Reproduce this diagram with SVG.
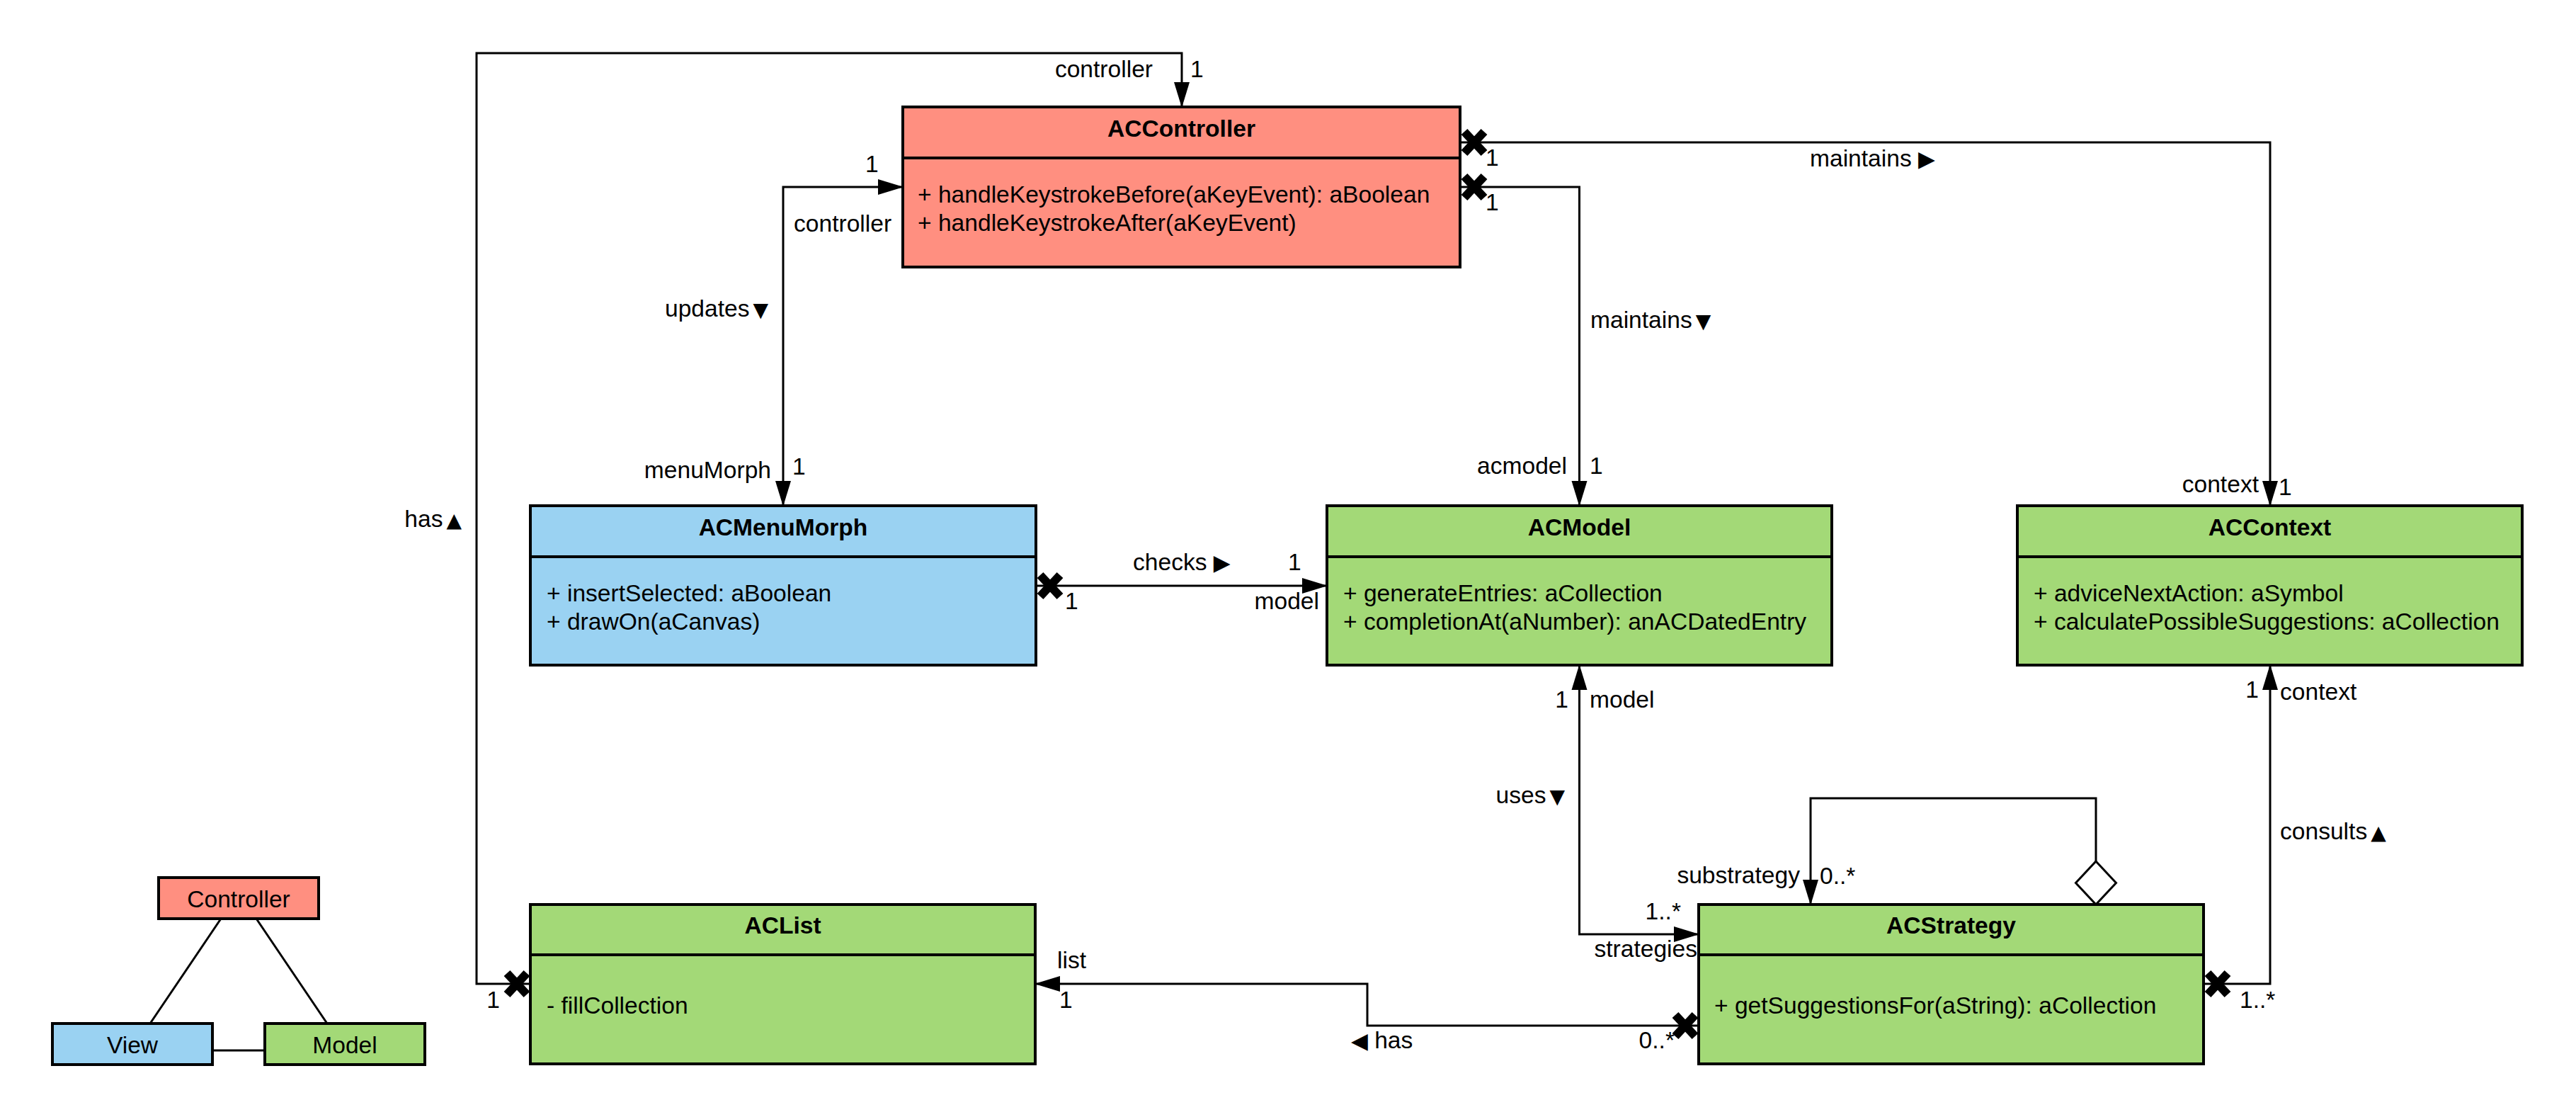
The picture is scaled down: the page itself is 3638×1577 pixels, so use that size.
<svg xmlns="http://www.w3.org/2000/svg" width="3638" height="1577" viewBox="0 0 3638 1577">
<style>
.box{stroke:#000;stroke-width:4}
.div{stroke:#000;stroke-width:4}
.conn{fill:none;stroke:#000;stroke-width:3}
.t{font-family:"Liberation Sans",Arial,sans-serif;font-size:33.6px;fill:#000}
.b{font-weight:bold}
.e{text-anchor:end}
.m{text-anchor:middle}
.tv{font-family:"DejaVu Sans",sans-serif;font-size:28px}
.th{font-family:"DejaVu Sans",sans-serif;font-size:31px}
.red{fill:#FF8F80}
.blue{fill:#9AD2F2}
.green{fill:#A3D977}
</style>
<defs>
<marker id="arr" markerUnits="userSpaceOnUse" markerWidth="36" markerHeight="24" viewBox="0 0 36 24" refX="35" refY="12" orient="auto-start-reverse">
<path d="M0,1 L36,12 L0,23 z" fill="#000"/>
</marker>
<path id="xm" d="M-14,-15 L14,15 M-14,15 L14,-15" stroke="#000" stroke-width="12" fill="none"/>
</defs>
<rect width="3638" height="1577" fill="#fff"/>

<g id="connectors">
<path class="conn" d="M749,1389 L673,1389 L673,75 L1669,75 L1669,151" marker-end="url(#arr)"/>
<path class="conn" d="M1275,264 L1106,264 L1106,714" marker-start="url(#arr)" marker-end="url(#arr)"/>
<path class="conn" d="M2062,201 L3206,201 L3206,714" marker-end="url(#arr)"/>
<path class="conn" d="M2062,264 L2230.5,264 L2230.5,714" marker-end="url(#arr)"/>
<path class="conn" d="M1463,827 L1874,827" marker-end="url(#arr)"/>
<path class="conn" d="M2230.5,939 L2230.5,1319 L2399,1319" marker-start="url(#arr)" marker-end="url(#arr)"/>
<path class="conn" d="M3112,1389 L3206,1389 L3206,939" marker-end="url(#arr)"/>
<path class="conn" d="M2399,1448 L1931,1448 L1931,1389 L1462,1389" marker-end="url(#arr)"/>
<path class="conn" d="M2960,1216 L2960,1127 L2557,1127 L2557,1277" marker-end="url(#arr)"/>
<path d="M2960,1216 L2988.5,1246.5 L2960,1277 L2931.5,1246.5 z" fill="#fff" stroke="#000" stroke-width="3"/>
<use href="#xm" x="2082" y="201"/>
<use href="#xm" x="2082" y="264"/>
<use href="#xm" x="1483" y="827"/>
<use href="#xm" x="730" y="1389"/>
<use href="#xm" x="2380" y="1448"/>
<use href="#xm" x="3132" y="1389"/>
<path class="conn" d="M312,1297 L212,1445 M362,1297 L462,1445 M300,1483 L374,1483"/>

<text class="t e" x="1628" y="109">controller</text>
<text class="t" x="1681" y="109">1</text>
<text class="t" x="1222" y="243">1</text>
<text class="t" x="1121" y="327">controller</text>
<text class="t e" x="1085" y="447">updates<tspan class="tv" dx="5">▼</tspan></text>
<text class="t e" x="1089" y="675">menuMorph</text>
<text class="t" x="1119" y="670">1</text>
<text class="t" x="2556" y="235">maintains <tspan class="th">▶</tspan></text>
<text class="t" x="2098" y="234">1</text>
<text class="t" x="2098" y="297">1</text>
<text class="t" x="2246" y="463">maintains<tspan class="tv" dx="5">▼</tspan></text>
<text class="t e" x="2213" y="669">acmodel</text>
<text class="t" x="2245" y="669">1</text>
<text class="t e" x="3190" y="695">context</text>
<text class="t" x="3218" y="699">1</text>
<text class="t e" x="652" y="744">has<tspan class="tv" dx="5">▲</tspan></text>
<text class="t" x="1600" y="805">checks <tspan class="th">▶</tspan></text>
<text class="t" x="1819" y="805">1</text>
<text class="t" x="1504" y="860">1</text>
<text class="t e" x="1863" y="860">model</text>
<text class="t e" x="2215" y="999">1</text>
<text class="t" x="2245" y="999">model</text>
<text class="t e" x="2210" y="1134">uses<tspan class="tv" dx="5">▼</tspan></text>
<text class="t e" x="3190" y="985">1</text>
<text class="t" x="3220" y="988">context</text>
<text class="t" x="3220" y="1185">consults<tspan class="tv" dx="5">▲</tspan></text>
<text class="t e" x="2542" y="1247">substrategy</text>
<text class="t" x="2570" y="1248">0..*</text>
<text class="t e" x="2374" y="1298">1..*</text>
<text class="t e" x="2397" y="1351">strategies</text>
<text class="t" x="3163" y="1423">1..*</text>
<text class="t" x="1493" y="1367">list</text>
<text class="t" x="1496" y="1423">1</text>
<text class="t e" x="706" y="1423">1</text>
<text class="t" x="1908" y="1480"><tspan class="th">◀</tspan> has</text>
<text class="t e" x="2365" y="1480">0..*</text>
</g>

<g id="ACController">
<rect class="box red" x="1275" y="151" width="787" height="226"/>
<line class="div" x1="1275" y1="223" x2="2062" y2="223"/>
<text class="t b m" x="1668.5" y="193">ACController</text>
<text class="t" x="1296" y="286">+ handleKeystrokeBefore(aKeyEvent): aBoolean</text>
<text class="t" x="1296" y="326">+ handleKeystrokeAfter(aKeyEvent)</text>
</g>

<g id="ACMenuMorph">
<rect class="box blue" x="749" y="714" width="714" height="225"/>
<line class="div" x1="749" y1="786" x2="1463" y2="786"/>
<text class="t b m" x="1106" y="756">ACMenuMorph</text>
<text class="t" x="772" y="849">+ insertSelected: aBoolean</text>
<text class="t" x="772" y="889">+ drawOn(aCanvas)</text>
</g>

<g id="ACModel">
<rect class="box green" x="1874" y="714" width="713" height="225"/>
<line class="div" x1="1874" y1="786" x2="2587" y2="786"/>
<text class="t b m" x="2230.5" y="756">ACModel</text>
<text class="t" x="1897" y="849">+ generateEntries: aCollection</text>
<text class="t" x="1897" y="889">+ completionAt(aNumber): anACDatedEntry</text>
</g>

<g id="ACContext">
<rect class="box green" x="2849" y="714" width="713" height="225"/>
<line class="div" x1="2849" y1="786" x2="3562" y2="786"/>
<text class="t b m" x="3205.5" y="756">ACContext</text>
<text class="t" x="2872" y="849">+ adviceNextAction: aSymbol</text>
<text class="t" x="2872" y="889">+ calculatePossibleSuggestions: aCollection</text>
</g>

<g id="ACList">
<rect class="box green" x="749" y="1277" width="713" height="225"/>
<line class="div" x1="749" y1="1348" x2="1462" y2="1348"/>
<text class="t b m" x="1105.5" y="1318">ACList</text>
<text class="t" x="772" y="1431">- fillCollection</text>
</g>

<g id="ACStrategy">
<rect class="box green" x="2399" y="1277" width="713" height="225"/>
<line class="div" x1="2399" y1="1348" x2="3112" y2="1348"/>
<text class="t b m" x="2755.5" y="1318">ACStrategy</text>
<text class="t" x="2421" y="1431">+ getSuggestionsFor(aString): aCollection</text>
</g>

<g id="LegendController">
<rect class="box red" x="224" y="1239" width="226" height="58"/>
<text class="t m" x="337" y="1281">Controller</text>
</g>
<g id="LegendView">
<rect class="box blue" x="74" y="1445" width="226" height="58"/>
<text class="t m" x="187" y="1487">View</text>
</g>
<g id="LegendModel">
<rect class="box green" x="374" y="1445" width="226" height="58"/>
<text class="t m" x="487" y="1487">Model</text>
</g>
</svg>
